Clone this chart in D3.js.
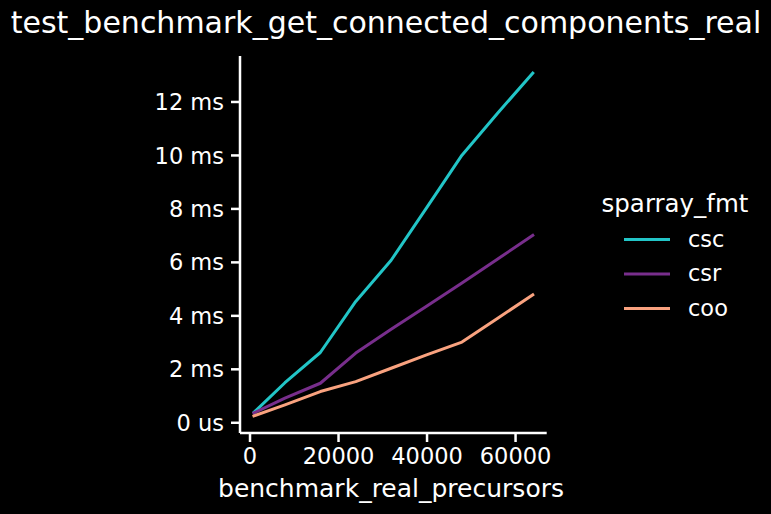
<!DOCTYPE html>
<html>
<head>
<meta charset="utf-8">
<script src="https://cdn.jsdelivr.net/npm/d3@7"></script>
<style>
  html, body { margin: 0; padding: 0; background: #000; }
  svg { display: block; font-family: "DejaVu Sans", sans-serif; }
</style>
</head>
<body>
<div class="chart"></div>
<script>
// data (times in ms)
const precursors = [1000, 8000, 16000, 24000, 32000, 40000, 48000, 56000, 64000];
const fmts = ['csc', 'csr', 'coo'];
const cscTimes = [0.37, 1.48, 2.61, 4.52, 6.06, 8.02, 9.99, 11.55, 13.06];
const csrTimes = [0.35, 0.9, 1.46, 2.59, 3.48, 4.34, 5.21, 6.1, 6.99];
const cooTimes = [0.24, 0.65, 1.15, 1.52, 2.02, 2.52, 3.0, 3.88, 4.77];
const xTicks = [0, 20000, 40000, 60000];
const yTicks = [0, 2, 4, 6, 8, 10, 12];
const colors = ['#22c5c7', '#782e8c', '#f9a27f'];

const series = [cscTimes, csrTimes, cooTimes];

const width = 771, height = 514;
const svg = d3.select('.chart').append('svg')
  .attr('width', width).attr('height', height)
  .style('background', '#000');

// matplotlib style 5% margins
function padded(vals) {
  const lo = d3.min(vals), hi = d3.max(vals);
  const m = (hi - lo) * 0.05;
  return [lo - m, hi + m];
}

const x = d3.scaleLinear().domain(padded(precursors)).range([240, 546.7]);
const y = d3.scaleLinear().domain(padded(series.flat())).range([433, 56]);

// axes
const xAxis = svg.append('g')
  .attr('transform', `translate(0,${y.range()[0]})`)
  .call(d3.axisBottom(x).tickValues(xTicks).tickFormat(d3.format('d')).tickSize(9).tickPadding(6));
const yAxis = svg.append('g')
  .attr('transform', `translate(${x.range()[0]},0)`)
  .call(d3.axisLeft(y).tickValues(yTicks)
    .tickFormat((d) => (d === 0 ? '0 us' : d + ' ms')).tickSize(9).tickPadding(7));

[xAxis, yAxis].forEach((g) => {
  g.select('.domain').attr('stroke', '#fff').attr('stroke-width', 2.5);
  g.selectAll('.tick line').attr('stroke', '#fff').attr('stroke-width', 2.5);
  g.selectAll('.tick text').attr('fill', '#fff').style('font-size', '22.5px')
    .style('font-family', '"DejaVu Sans", sans-serif');
});
// spines without outer ticks
xAxis.select('.domain').attr('d', `M${x.range()[0]},0H${x.range()[1]}`);
yAxis.select('.domain').attr('d', `M0,${y.range()[0]}V${y.range()[1]}`);
yAxis.selectAll('.tick text').attr('dy', '0.36em');

// lines
const line = d3.line().x((d, i) => x(precursors[i])).y((d) => y(d));
svg.selectAll('.series')
  .data(series)
  .join('path')
  .attr('class', 'series')
  .attr('d', line)
  .attr('fill', 'none')
  .attr('stroke', (d, i) => colors[i])
  .attr('stroke-width', 3)
  .attr('stroke-linejoin', 'round')
  .attr('stroke-linecap', 'square');

// labels
svg.append('text')
  .attr('x', 391).attr('y', 497)
  .attr('text-anchor', 'middle')
  .attr('fill', '#fff').style('font-size', '25px')
  .text('benchmark_real_precursors');

svg.append('text')
  .attr('x', 386).attr('y', 33)
  .attr('text-anchor', 'middle')
  .attr('fill', '#fff').style('font-size', '30px')
  .text('test_benchmark_get_connected_components_real');

// legend
const legend = svg.append('g');
legend.append('text')
  .attr('x', 675).attr('y', 212)
  .attr('text-anchor', 'middle')
  .attr('fill', '#fff').style('font-size', '24.5px')
  .text('sparray_fmt');
const items = legend.selectAll('.item')
  .data(fmts)
  .join('g')
  .attr('class', 'item')
  .attr('transform', (d, i) => `translate(0,${239.5 + i * 34.5})`);
items.append('line')
  .attr('x1', 624).attr('x2', 670)
  .attr('stroke', (d, i) => colors[i])
  .attr('stroke-width', 3);
items.append('text')
  .attr('x', 688).attr('y', 7)
  .attr('fill', '#fff').style('font-size', '22.5px')
  .text((d) => d);
</script>
</body>
</html>
